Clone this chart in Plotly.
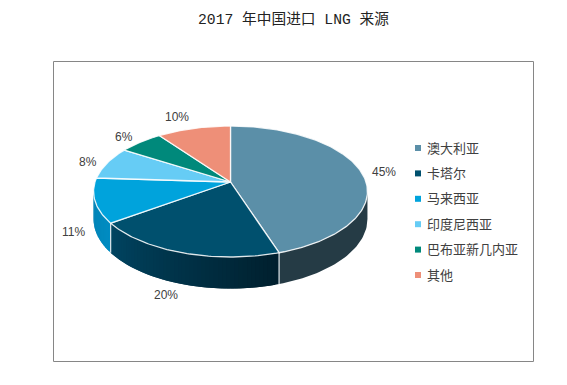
import math
import plotly.graph_objects as go

categories = ["澳大利亚", "卡塔尔", "马来西亚", "印度尼西亚", "巴布亚新几内亚", "其他"]
values = [45, 20, 11, 8, 6, 10]
top_colors = ["#5b8fa8", "#00506e", "#00a3dc", "#66ccf5", "#00897b", "#ee8f78"]
wall_colors = [("#253b45", "#253b45"), ("#001f2d", "#004562"), ("#008cc2", "#0082b4"),
               None, None, None]
title_text = "2017 年中国进口 LNG 来源"

W, H = 567, 385
CX, CY, RX, RY, K, DEPTH = 230.5, 182, 135.5, 64.12, 0.145, 27
FONT_CJK = "Noto Sans CJK SC"
TXT = "#404040"
# label nudges (px) relative to rim point at mid-angle
label_nudge = [(23, 0), (-16, 42), (-21, 31), (-19, -1), (-17, -5), (-17, -11)]


def rim(t_deg, drop=False):
    t = math.radians(t_deg)
    w = 1 + K * math.cos(t)
    x = CX + RX * math.sin(t) / w
    y = CY - RY * math.cos(t) / w
    if drop:
        y += DEPTH / w
    return x, y


def hex_rgb(c):
    return tuple(int(c[i:i + 2], 16) for i in (1, 3, 5))


def mix(a, b, f):
    ra, rb = hex_rgb(a), hex_rgb(b)
    return "rgb(%d,%d,%d)" % tuple(round(p + (q - p) * f) for p, q in zip(ra, rb))


fig = go.Figure()
total = sum(values)
edges = [0]
for v in values:
    edges.append(edges[-1] + v / total * 360)

T_R = math.degrees(math.acos(-K))
T_L = 360 - T_R

# side walls: overlapping strips painted in order so no seams show
for i, v in enumerate(values):
    if wall_colors[i] is None:
        continue
    a, b = max(edges[i], T_R), min(edges[i + 1], T_L)
    flat = wall_colors[i][0] == wall_colors[i][1]
    n = 1 if flat else max(1, int((b - a) / 1.5))
    for s in range(n):
        t0 = a + (b - a) * s / n
        steps = [t0 + (b - t0) * j / 40 for j in range(41)] if flat or s == n - 1 else None
        if steps is None:
            t_end = a + (b - a) * (s + 2) / n
            t_end = min(t_end, b)
            steps = [t0 + (t_end - t0) * j / 6 for j in range(7)]
        else:
            steps = [t0 + (b - t0) * j / 40 for j in range(41)]
        top = [rim(t) for t in steps]
        bot = [rim(t, True) for t in reversed(steps)]
        poly = top + bot + top[:1]
        col = mix(wall_colors[i][0], wall_colors[i][1], (s + 0.5) / n)
        fig.add_trace(go.Scatter(
            x=[p[0] for p in poly], y=[p[1] for p in poly],
            mode="lines", fill="toself", fillcolor=col, line=dict(width=0),
            hoverinfo="skip", showlegend=False))
# light seams between walls
for i, v in enumerate(values):
    if wall_colors[i] is not None and edges[i + 1] < T_L:
        p, q = rim(edges[i + 1]), rim(edges[i + 1], True)
        fig.add_trace(go.Scatter(x=[p[0], q[0]], y=[p[1], q[1]], mode="lines",
                                 line=dict(color="#dfe6ea", width=1.2),
                                 hoverinfo="skip", showlegend=False))

# top faces
for i, v in enumerate(values):
    a, b = edges[i], edges[i + 1]
    n = max(2, int(b - a))
    pts = [rim(a + (b - a) * s / n) for s in range(n + 1)]
    xs = [CX] + [p[0] for p in pts] + [CX]
    ys = [CY] + [p[1] for p in pts] + [CY]
    fig.add_trace(go.Scatter(
        x=xs, y=ys, mode="lines", fill="toself", fillcolor=top_colors[i],
        line=dict(color="rgba(255,255,255,0.85)", width=1.3),
        name=categories[i], text=f"{categories[i]}: {v}%", hoverinfo="text", showlegend=False))

# percent labels
for i, v in enumerate(values):
    x, y = rim((edges[i] + edges[i + 1]) / 2)
    fig.add_annotation(x=x + label_nudge[i][0], y=y + label_nudge[i][1], text=f"{v}%",
                       showarrow=False, xref="x", yref="y",
                       font=dict(family="Liberation Sans, Arial", size=12, color=TXT))

# legend column
for i, name in enumerate(categories):
    yy = 148 + i * 25.4
    fig.add_trace(go.Scatter(x=[418], y=[yy], mode="markers",
                             marker=dict(symbol="square", size=6, color=top_colors[i]),
                             hoverinfo="skip", showlegend=False))
    fig.add_annotation(x=424.5, y=yy - 1, text=name, showarrow=False, xanchor="left", xref="x", yref="y",
                       font=dict(family=FONT_CJK, size=13, color=TXT))

fig.add_annotation(x=293.5, y=19, text=title_text, showarrow=False, xref="x", yref="y",
                   font=dict(family=f"Liberation Mono, {FONT_CJK}", size=14.7, color="#222222"))

fig.update_layout(
    width=W, height=H, margin=dict(l=0, r=0, t=0, b=0),
    paper_bgcolor="white", plot_bgcolor="white", showlegend=False,
    xaxis=dict(range=[0, W], visible=False, fixedrange=True),
    yaxis=dict(range=[H, 0], visible=False, fixedrange=True),
    shapes=[dict(type="rect", xref="x", yref="y", x0=53.5, y0=61.5, x1=533.5, y1=361.5,
                 line=dict(color="#868686", width=1), layer="below")],
)
fig.write_html("out.html", config={"displayModeBar": False},
               post_script="document.body.style.margin='0';document.body.style.overflow='hidden';")
